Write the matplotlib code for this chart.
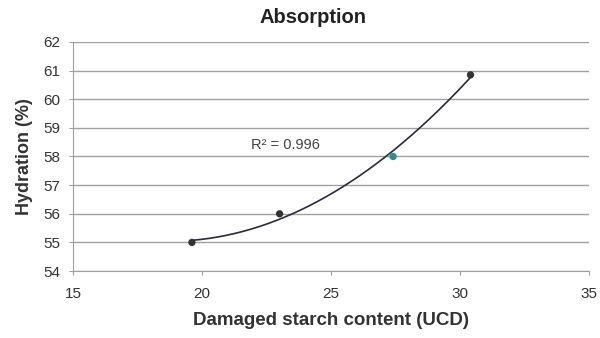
import numpy as np
import matplotlib
matplotlib.use('Agg')
import matplotlib.pyplot as plt

# damaged starch content (UCD) vs hydration (%)
starch = [19.6, 23.0, 27.4, 30.4]
hydration = [55.0, 56.0, 58.0, 60.85]
x_ticks = [15, 20, 25, 30, 35]
y_ticks = [54, 55, 56, 57, 58, 59, 60, 61, 62]

plt.rcParams['font.family'] = ['Liberation Sans', 'DejaVu Sans']

fig = plt.figure(figsize=(6, 3.38), dpi=100)
ax = fig.add_axes([0.122, 0.198, 0.860, 0.678])

# second order trendline, like the spreadsheet one
coef = np.polyfit(starch, hydration, 2)
xs = np.linspace(min(starch), max(starch), 200)
ax.plot(xs, np.polyval(coef, xs), color='#2b2b3a', lw=1.2, zorder=3)

ax.scatter(starch, hydration, s=18, color=['#333333', '#333333', '#2f8c8c', '#333333'], zorder=4)

ax.text(21.9, 58.4, 'R² = 0.996', fontsize=10.5, color='#444444', va='center')

ax.set_xlim(15, 35)
ax.set_ylim(54, 62)
ax.set_xticks(x_ticks)
ax.set_yticks(y_ticks)
ax.yaxis.grid(True, color='#a0a0a0', lw=1)
ax.set_axisbelow(True)
for s in ['top', 'right']:
    ax.spines[s].set_visible(False)
ax.spines['left'].set_color('#a0a0a0')
ax.spines['bottom'].set_color('#a0a0a0')
ax.tick_params(colors='#a0a0a0', labelcolor='#333333', labelsize=11, length=3)
ax.tick_params(axis='x', pad=8.5)
ax.tick_params(axis='y', pad=6)

fig.text(0.522, 0.947, 'Absorption', fontsize=14.5, fontweight='bold', color='#222222',
         ha='center', va='center')
ax.set_xlabel('Damaged starch content (UCD)', fontsize=13.5, fontweight='bold', color='#333333', labelpad=8)
ax.set_ylabel('Hydration (%)', fontsize=13, fontweight='bold', color='#333333', labelpad=8)

fig.savefig('out.png', dpi=100)
